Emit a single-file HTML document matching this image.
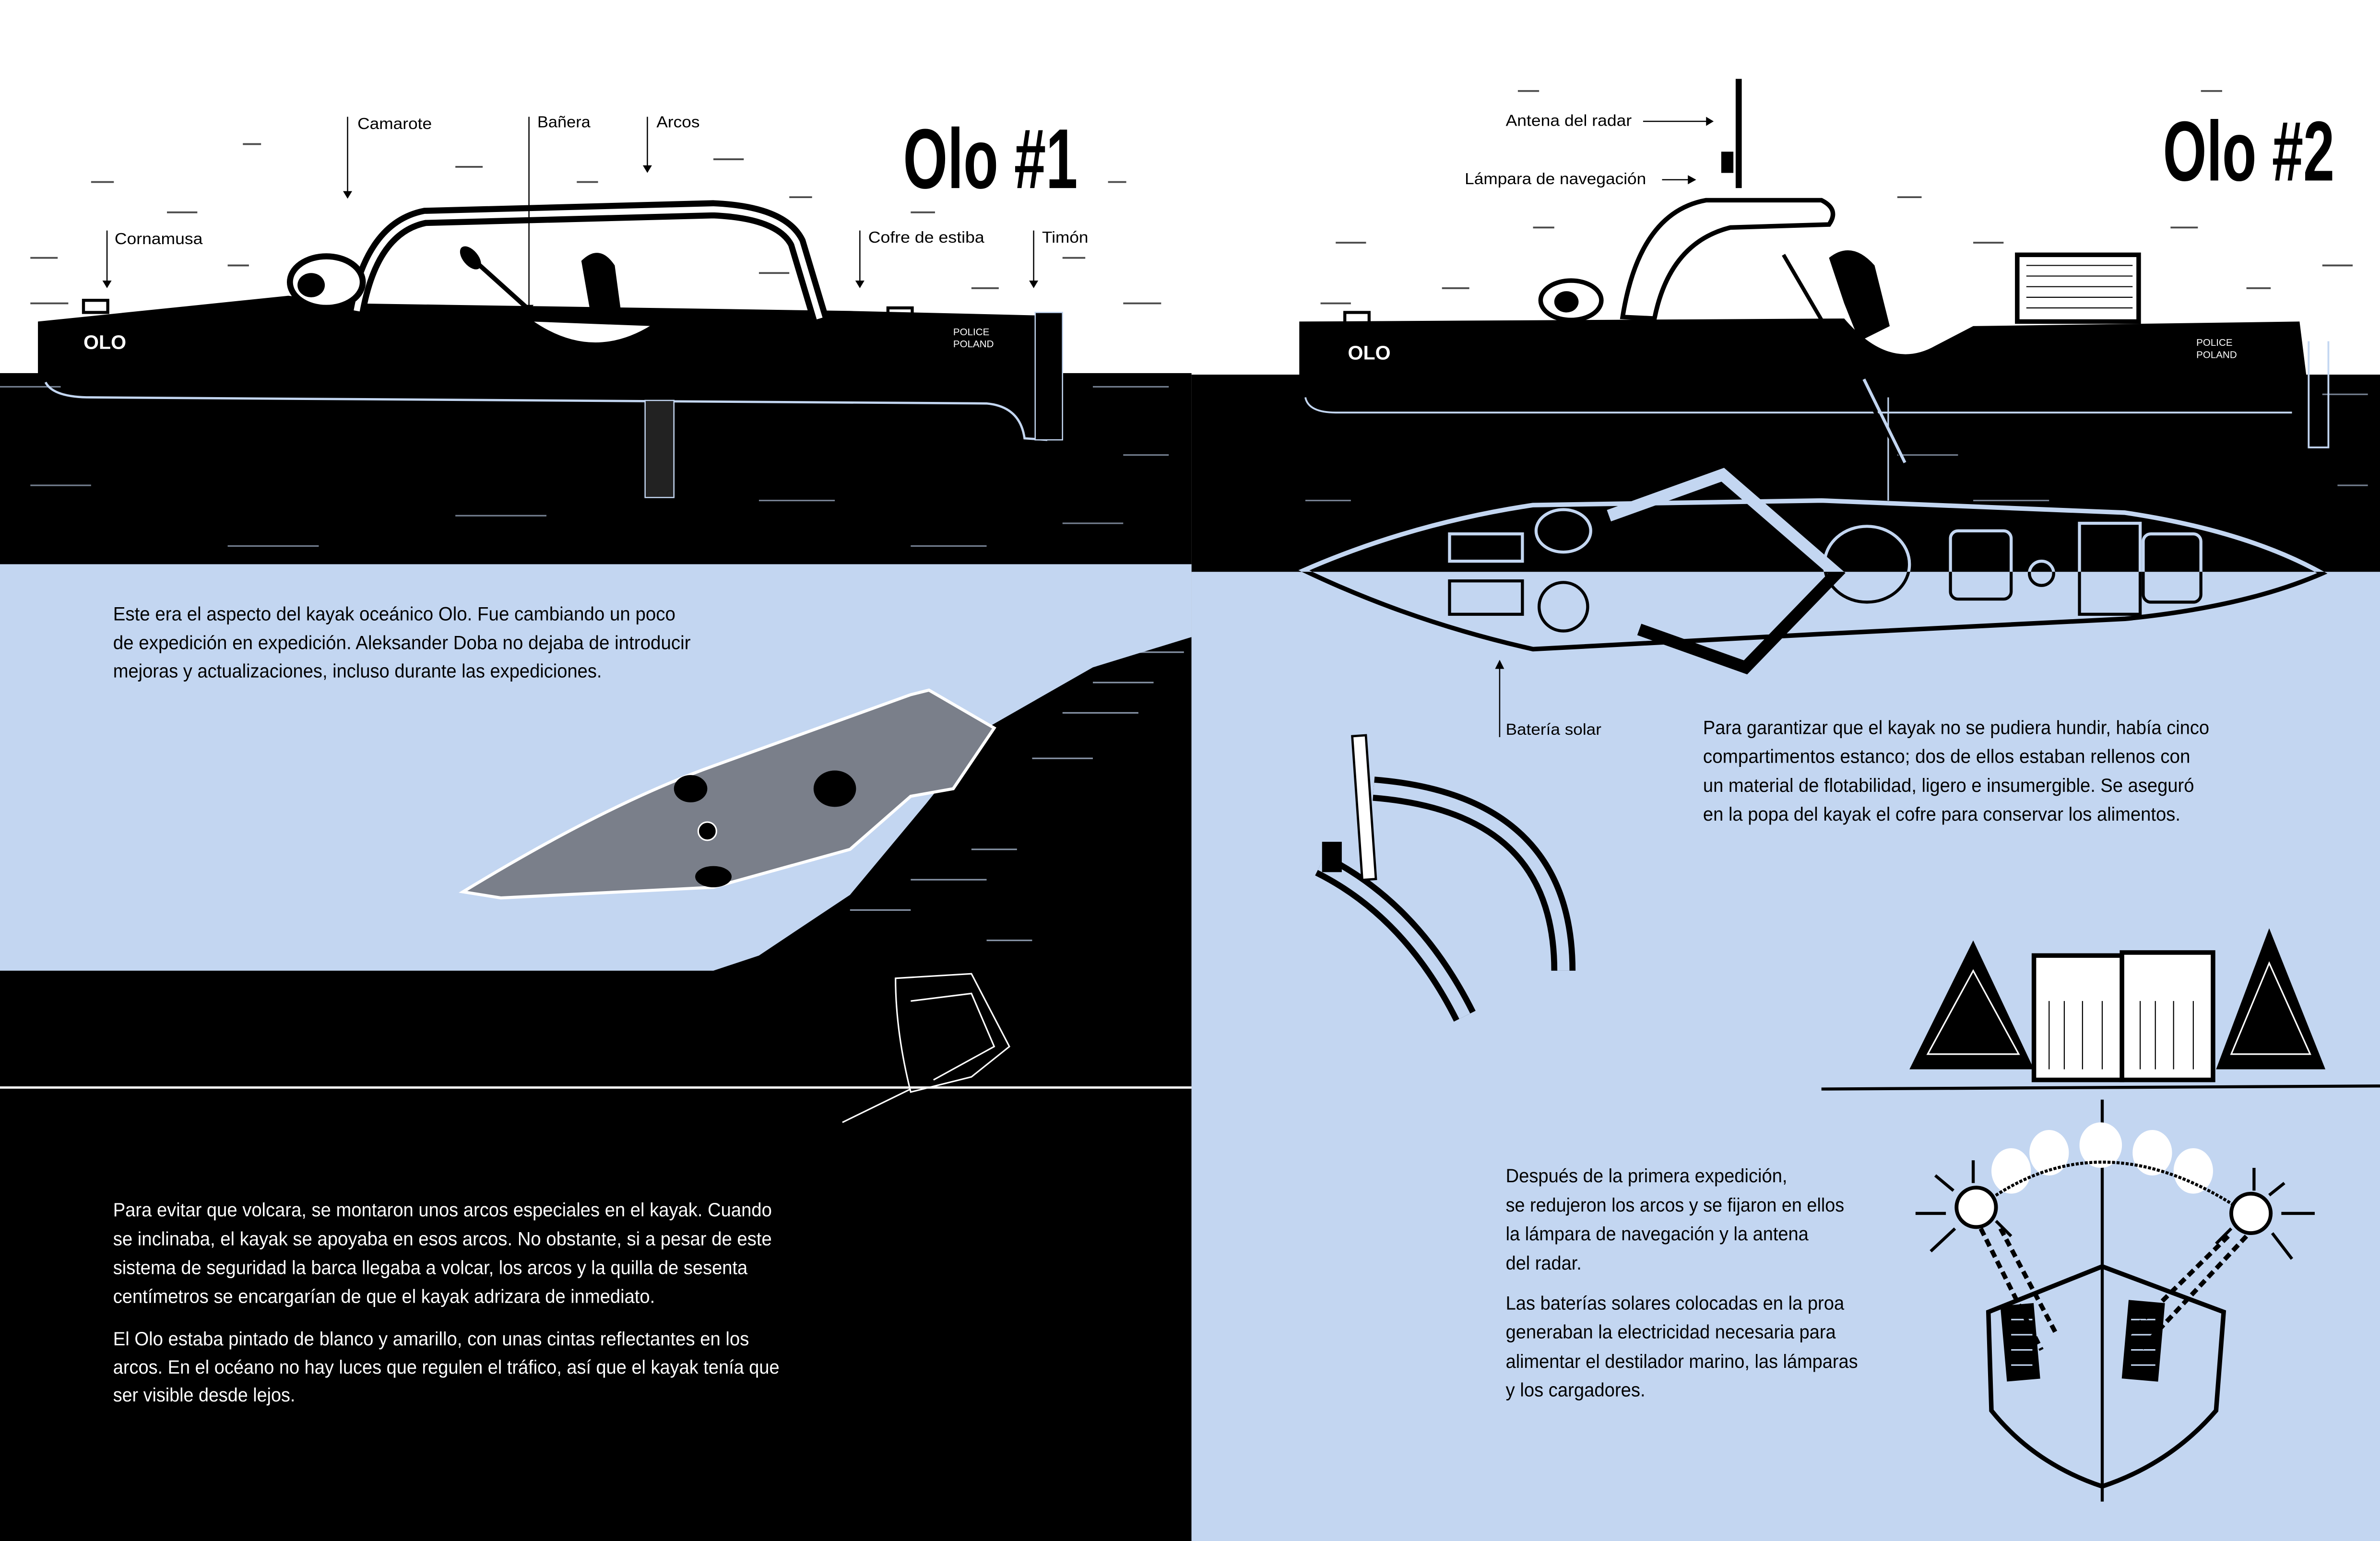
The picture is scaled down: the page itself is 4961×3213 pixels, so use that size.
<!DOCTYPE html>
<html><head><meta charset="utf-8"><style>
html,body{margin:0;padding:0;background:#fff;}
svg{display:block;}
text{font-family:"Liberation Sans",sans-serif;}
</style></head><body>
<svg width="4961" height="3213" viewBox="0 0 1568 1016" preserveAspectRatio="none" xmlns="http://www.w3.org/2000/svg">
<defs>
<clipPath id="top"><rect x="0" y="0" width="1568" height="377"/></clipPath>
<clipPath id="bot"><rect x="0" y="377" width="1568" height="700"/></clipPath>
</defs>
<rect width="1568" height="1016" fill="#fff"/>
<g stroke="#000" stroke-width="1.2" opacity="0.7">
<path d="M60,120h15M110,140h20M160,95h12M300,110h18M380,120h14M470,105h20M520,130h15M20,170h18M150,175h14M500,180h20M600,140h16M640,190h18M700,170h15M730,120h12M20,200h25M740,200h25M880,160h20M950,190h18M1010,150h14M1250,130h16M1300,160h20M1430,150h18M1480,190h16M1530,175h20M870,200h20M1450,60h14M1000,60h14"/>
</g>
<rect x="0" y="246" width="785" height="770" fill="#000"/>
<rect x="785" y="247" width="783" height="131" fill="#000"/>
<polygon points="0,372 785,372 785,420 720,440 650,480 610,530 560,590 500,630 470,640 0,640" fill="#c3d6f1"/>
<g stroke="#c3d6f1" stroke-width="1" opacity="0.7" fill="none">
<path d="M560,600h40M600,580h50M640,560h30M680,500h40M700,470h50M720,450h40M650,620h30M740,430h40"/>
</g>
<line x1="0" y1="717" x2="785" y2="717" stroke="#fff" stroke-width="1.5"/>
<rect x="785" y="377" width="783" height="639" fill="#c3d6f1"/>
<g stroke="#c3d6f1" stroke-width="1" opacity="0.6" fill="none">
<path d="M0,255h40M60,262h30M720,255h50M740,300h30M20,320h40M300,340h60M500,330h50M700,345h40M150,360h60M600,360h50M860,330h30M1530,260h30M1540,320h20M1250,300h40M1300,330h50"/>
</g>

<!-- LEFT BOAT -->
<path d="M25,212 L190,195 L230,200 L560,205 L685,208 L685,247 L25,247 Z" fill="#000"/>
<path d="M30,252 Q35,262 60,262 L650,266 Q672,268 675,289 L690,290" fill="none" stroke="#c3d6f1" stroke-width="1.5"/>
<rect x="682" y="206" width="18" height="84" fill="#000" stroke="#c3d6f1" stroke-width="0.8"/>
<rect x="425" y="264" width="19" height="64" fill="#222" stroke="#c3d6f1" stroke-width="0.8"/>
<path d="M235,205 Q245,150 280,143 L470,138 Q515,140 525,160 L540,210" fill="none" stroke="#000" stroke-width="12"/>
<path d="M235,205 Q245,150 280,143 L470,138 Q515,140 525,160 L540,210" fill="none" stroke="#fff" stroke-width="4"/>
<ellipse cx="215" cy="186" rx="24" ry="17" fill="#fff" stroke="#000" stroke-width="4"/>
<ellipse cx="205" cy="188" rx="9" ry="8" fill="#000"/>
<path d="M350,212 Q390,240 430,215" fill="#fff" stroke="#000" stroke-width="2"/>
<line x1="305" y1="165" x2="355" y2="210" stroke="#000" stroke-width="3"/>
<ellipse cx="310" cy="170" rx="5" ry="9" fill="#000" transform="rotate(-40 310 170)"/>
<path d="M383,172 Q395,160 405,175 L410,212 L390,212 Z" fill="#000"/>
<text x="55" y="230" font-size="13" fill="#fff" font-weight="bold">OLO</text>
<text x="628" y="221" font-size="6.5" fill="#fff">POLICE</text>
<text x="628" y="229" font-size="6.5" fill="#fff">POLAND</text>
<rect x="55" y="198" width="16" height="8" fill="none" stroke="#000" stroke-width="2"/>
<rect x="585" y="203" width="16" height="8" fill="none" stroke="#000" stroke-width="2"/>

<g font-size="10.5" fill="#000">
<text x="235.5" y="85" textLength="49" lengthAdjust="spacingAndGlyphs">Camarote</text>
<text x="354" y="84" textLength="35" lengthAdjust="spacingAndGlyphs">Bañera</text>
<text x="432.5" y="84" textLength="28.5" lengthAdjust="spacingAndGlyphs">Arcos</text>
<text x="75.5" y="161" textLength="58" lengthAdjust="spacingAndGlyphs">Cornamusa</text>
<text x="572" y="160" textLength="76.5" lengthAdjust="spacingAndGlyphs">Cofre de estiba</text>
<text x="686.5" y="160" textLength="30.5" lengthAdjust="spacingAndGlyphs">Timón</text>
</g>
<g stroke="#000" stroke-width="0.8">
<line x1="229" y1="77" x2="229" y2="127"/><line x1="348.5" y1="77" x2="348.5" y2="202"/><line x1="426.5" y1="77" x2="426.5" y2="110"/>
<line x1="70.5" y1="152" x2="70.5" y2="186"/><line x1="566.5" y1="152" x2="566.5" y2="186"/><line x1="681" y1="152" x2="681" y2="186"/>
</g>
<g fill="#000">
<polygon points="226,126 232,126 229,131"/><polygon points="345.5,201 351.5,201 348.5,206"/><polygon points="423.5,109 429.5,109 426.5,114"/>
<polygon points="67.5,185 73.5,185 70.5,190"/><polygon points="563.5,185 569.5,185 566.5,190"/><polygon points="678,185 684,185 681,190"/>
</g>
<text x="595" y="124" font-size="56" font-weight="bold" fill="#000" textLength="115" lengthAdjust="spacingAndGlyphs" font-family="Liberation Sans Narrow, Liberation Sans, sans-serif">Olo #1</text>

<!-- RIGHT BOAT -->
<path d="M856,212 L1215,210 Q1245,245 1275,228 L1300,215 L1515,212 L1521,260 L856,260 Z" fill="#000"/>
<path d="M860,262 Q862,272 880,272 L1510,272 M1521,225 L1521,295 L1534,295 L1534,225" fill="none" stroke="#c3d6f1" stroke-width="1.2"/>
<line x1="1244" y1="262" x2="1244" y2="330" stroke="#c3d6f1" stroke-width="1"/>
<path d="M1069,209 Q1080,140 1124,132 L1200,132 Q1212,138 1205,148 L1140,150 Q1100,160 1090,210 Z" fill="#fff" stroke="#000" stroke-width="3"/>
<rect x="1143.5" y="52" width="4" height="72" fill="#000"/>
<rect x="1134" y="100" width="8" height="14" fill="#000"/>
<ellipse cx="1035" cy="198" rx="20" ry="13" fill="#fff" stroke="#000" stroke-width="3"/>
<ellipse cx="1032" cy="199" rx="8" ry="7" fill="#000"/>
<rect x="1329" y="168" width="80" height="44" fill="#fff" stroke="#000" stroke-width="3"/>
<g stroke="#000" stroke-width="0.7"><path d="M1335,175h70M1335,182h70M1335,189h70M1335,196h70M1335,203h70"/></g>
<line x1="1175" y1="168" x2="1255" y2="305" stroke="#000" stroke-width="2.5"/>
<line x1="1228" y1="250" x2="1255" y2="305" stroke="#c3d6f1" stroke-width="2"/>
<path d="M1205,170 Q1220,158 1235,175 L1245,215 L1225,225 L1215,200 Z" fill="#000"/>
<text x="888" y="237" font-size="13" fill="#fff" font-weight="bold">OLO</text>
<text x="1447" y="228" font-size="6.5" fill="#fff">POLICE</text>
<text x="1447" y="236" font-size="6.5" fill="#fff">POLAND</text>
<rect x="886" y="206" width="16" height="8" fill="none" stroke="#000" stroke-width="2"/>

<g font-size="10.5" fill="#000">
<text x="992" y="83" textLength="83" lengthAdjust="spacingAndGlyphs">Antena del radar</text>
<text x="965" y="121.5" textLength="119.5" lengthAdjust="spacingAndGlyphs">Lámpara de navegación</text>
<text x="992" y="484.5" textLength="63" lengthAdjust="spacingAndGlyphs">Batería solar</text>
</g>
<g stroke="#000" stroke-width="0.8"><line x1="1082.5" y1="80" x2="1125" y2="80"/><line x1="1095" y1="118.5" x2="1113" y2="118.5"/><line x1="988" y1="440" x2="988" y2="486"/></g>
<g fill="#000"><polygon points="1124,77 1124,83 1129,80"/><polygon points="1112,115.5 1112,121.5 1117.5,118.5"/><polygon points="985,441 991,441 988,435"/></g>
<text x="1425" y="119" font-size="56" font-weight="bold" fill="#000" textLength="113" lengthAdjust="spacingAndGlyphs" font-family="Liberation Sans Narrow, Liberation Sans, sans-serif">Olo #2</text>

<g id="kay">
<path d="M859,376 Q930,345 1010,333 L1200,330 L1400,338 Q1480,350 1530,378 Q1480,400 1400,408 L1200,418 L1010,428 Q930,410 859,376 Z" fill="none" stroke-width="3"/>
<path d="M1060,340 L1135,313 L1210,378 L1150,440 L1080,415" fill="none" stroke-width="8"/>
<ellipse cx="1030" cy="350" rx="18" ry="14" fill="none" stroke-width="2"/>
<ellipse cx="1030" cy="400" rx="16" ry="16" fill="none" stroke-width="2"/>
<rect x="955" y="352" width="48" height="18" fill="none" stroke-width="2"/>
<rect x="955" y="383" width="48" height="22" fill="none" stroke-width="2"/>
<ellipse cx="1230" cy="372" rx="28" ry="25" fill="none" stroke-width="2"/>
<rect x="1285" y="350" width="40" height="45" rx="5" fill="none" stroke-width="2"/>
<rect x="1370" y="345" width="40" height="60" fill="none" stroke-width="2"/>
<rect x="1412" y="352" width="38" height="45" rx="5" fill="none" stroke-width="2"/>
<circle cx="1345" cy="378" r="8" fill="none" stroke-width="2"/>
</g>
<use href="#kay" stroke="#c3d6f1" clip-path="url(#top)"/>
<use href="#kay" stroke="#000" clip-path="url(#bot)"/>

<path d="M305,588 Q400,530 470,505 L600,458 L612,455 L655,480 L628,520 L600,525 L560,560 L470,585 L330,592 Z" fill="#7a7f8a" stroke="#fff" stroke-width="2"/>
<ellipse cx="455" cy="520" rx="11" ry="9" fill="#000"/>
<ellipse cx="470" cy="578" rx="12" ry="7" fill="#000"/>
<ellipse cx="550" cy="520" rx="14" ry="12" fill="#000"/>
<circle cx="466" cy="548" r="6" fill="#000" stroke="#fff"/>
<g stroke="#fff" stroke-width="1" fill="none">
<path d="M590,645 L640,642 L665,690 L640,710 L600,720 Q590,680 590,645 Z"/>
<path d="M600,660 L640,655 L655,690 L615,712"/>
<path d="M555,740 L600,718"/>
</g>

<path d="M870,570 Q930,600 965,670 M905,520 Q1030,530 1030,640" fill="none" stroke="#000" stroke-width="16"/>
<path d="M870,570 Q930,600 965,670 M905,520 Q1030,530 1030,640" fill="none" stroke="#c3d6f1" stroke-width="8"/>
<rect x="894" y="485" width="9" height="95" fill="#fff" stroke="#000" stroke-width="1.5" transform="rotate(-4 898 530)"/>
<rect x="871" y="555" width="13" height="20" fill="#000"/>

<polygon points="1258,705 1300,620 1340,705" fill="#000"/>
<polygon points="1270,695 1300,640 1330,695" fill="none" stroke="#fff" stroke-width="1"/>
<rect x="1340" y="630" width="58" height="82" fill="#fff" stroke="#000" stroke-width="3"/>
<rect x="1398" y="628" width="60" height="84" fill="#fff" stroke="#000" stroke-width="3"/>
<g stroke="#000" stroke-width="0.7"><path d="M1350,660v45M1360,660v45M1372,660v45M1385,660v45M1410,660v45M1420,660v45M1432,660v45M1445,660v45"/></g>
<polygon points="1460,705 1495,612 1532,705" fill="#000"/>
<polygon points="1470,695 1495,635 1522,695" fill="none" stroke="#fff" stroke-width="1"/>
<line x1="1200" y1="718" x2="1568" y2="716" stroke="#000" stroke-width="2"/>

<line x1="1385" y1="725" x2="1385" y2="990" stroke="#000" stroke-width="2"/>
<g fill="#fff"><ellipse cx="1325" cy="772" rx="13" ry="15"/><ellipse cx="1350" cy="760" rx="13" ry="15"/><ellipse cx="1384" cy="755" rx="14" ry="15"/><ellipse cx="1418" cy="760" rx="13" ry="15"/><ellipse cx="1445" cy="772" rx="13" ry="15"/></g>
<path d="M1305,795 Q1385,735 1480,800" fill="none" stroke="#000" stroke-width="2" stroke-dasharray="2 1"/>
<circle cx="1302" cy="796" r="13" fill="#fff" stroke="#000" stroke-width="2.5"/>
<circle cx="1483" cy="800" r="13" fill="#fff" stroke="#000" stroke-width="2.5"/>
<g stroke="#000" stroke-width="2"><path d="M1275,775 L1287,785M1262,800h20M1272,825 L1288,810M1300,765v15M1325,815 L1315,805M1505,780 L1495,788M1525,800h-22M1510,830 L1497,813M1485,770v15M1460,820 L1470,810"/></g>
<path d="M1310,865 L1385,835 L1465,865 L1460,930 Q1430,965 1385,980 Q1340,965 1312,930 Z" fill="none" stroke="#000" stroke-width="3"/>
<rect x="1320" y="860" width="22" height="50" fill="#000" transform="rotate(-5 1331 885)"/>
<rect x="1400" y="858" width="24" height="52" fill="#000" transform="rotate(5 1412 885)"/>
<g stroke="#c3d6f1" stroke-width="1"><path d="M1325,870h14M1325,880h14M1325,890h14M1325,900h14M1404,870h16M1404,880h16M1404,890h16M1404,900h16"/></g>
<g stroke="#000" stroke-width="3" stroke-dasharray="5 3"><path d="M1305,810 L1345,890M1318,810 L1355,880M1480,815 L1410,890M1468,815 L1402,880"/></g>

<g font-size="12.5" fill="#000">
<text x="74.5" y="409" textLength="370.5" lengthAdjust="spacingAndGlyphs">Este era el aspecto del kayak oceánico Olo. Fue cambiando un poco</text>
<text x="74.5" y="428" textLength="380.5" lengthAdjust="spacingAndGlyphs">de expedición en expedición. Aleksander Doba no dejaba de introducir</text>
<text x="74.5" y="446.6" textLength="322" lengthAdjust="spacingAndGlyphs">mejoras y actualizaciones, incluso durante las expediciones.</text>
</g>
<g font-size="12.5" fill="#fff">
<text x="74.5" y="802" textLength="434" lengthAdjust="spacingAndGlyphs">Para evitar que volcara, se montaron unos arcos especiales en el kayak. Cuando</text>
<text x="74.5" y="821" textLength="434" lengthAdjust="spacingAndGlyphs">se inclinaba, el kayak se apoyaba en esos arcos. No obstante, si a pesar de este</text>
<text x="74.5" y="840" textLength="418" lengthAdjust="spacingAndGlyphs">sistema de seguridad la barca llegaba a volcar, los arcos y la quilla de sesenta</text>
<text x="74.5" y="859" textLength="357" lengthAdjust="spacingAndGlyphs">centímetros se encargarían de que el kayak adrizara de inmediato.</text>
<text x="74.5" y="887" textLength="419" lengthAdjust="spacingAndGlyphs">El Olo estaba pintado de blanco y amarillo, con unas cintas reflectantes en los</text>
<text x="74.5" y="905.6" textLength="439" lengthAdjust="spacingAndGlyphs">arcos. En el océano no hay luces que regulen el tráfico, así que el kayak tenía que</text>
<text x="74.5" y="924" textLength="120" lengthAdjust="spacingAndGlyphs">ser visible desde lejos.</text>
</g>
<g font-size="12.5" fill="#000">
<text x="1122" y="484" textLength="333.5" lengthAdjust="spacingAndGlyphs">Para garantizar que el kayak no se pudiera hundir, había cinco</text>
<text x="1122" y="503" textLength="321" lengthAdjust="spacingAndGlyphs">compartimentos estanco; dos de ellos estaban rellenos con</text>
<text x="1122" y="522" textLength="323.5" lengthAdjust="spacingAndGlyphs">un material de flotabilidad, ligero e insumergible. Se aseguró</text>
<text x="1122" y="541" textLength="314.5" lengthAdjust="spacingAndGlyphs">en la popa del kayak el cofre para conservar los alimentos.</text>
<text x="992" y="779.4" textLength="185.5" lengthAdjust="spacingAndGlyphs">Después de la primera expedición,</text>
<text x="992" y="798.7" textLength="223" lengthAdjust="spacingAndGlyphs">se redujeron los arcos y se fijaron en ellos</text>
<text x="992" y="817.7" textLength="199.5" lengthAdjust="spacingAndGlyphs">la lámpara de navegación y la antena</text>
<text x="992" y="837" textLength="50" lengthAdjust="spacingAndGlyphs">del radar.</text>
<text x="992" y="863.5" textLength="223" lengthAdjust="spacingAndGlyphs">Las baterías solares colocadas en la proa</text>
<text x="992" y="882.4" textLength="217.5" lengthAdjust="spacingAndGlyphs">generaban la electricidad necesaria para</text>
<text x="992" y="901.8" textLength="232" lengthAdjust="spacingAndGlyphs">alimentar el destilador marino, las lámparas</text>
<text x="992" y="920.7" textLength="92" lengthAdjust="spacingAndGlyphs">y los cargadores.</text>
</g>
</svg>
</body></html>
